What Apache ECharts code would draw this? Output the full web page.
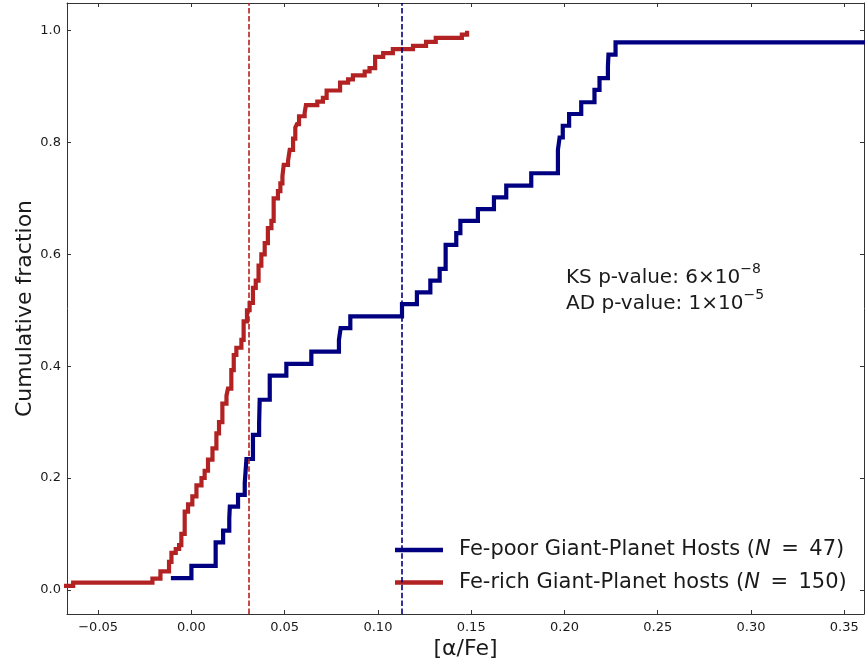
<!DOCTYPE html>
<html>
<head>
<meta charset="utf-8">
<script src="https://cdn.jsdelivr.net/npm/echarts@6/dist/echarts.min.js"></script>
<style>html,body{margin:0;padding:0;background:#fff}#c{width:865px;height:661px}</style>
</head>
<body>
<div id="c"></div>
<script>
// ---- data ----
const xTicks = [-0.05, 0.00, 0.05, 0.10, 0.15, 0.20, 0.25, 0.30, 0.35];
const yTicks = [0.0, 0.2, 0.4, 0.6, 0.8, 1.0];

const poorName = 'Fe-poor Giant-Planet Hosts (N = 47)';
const richName = 'Fe-rich Giant-Planet hosts (N = 150)';

// Fe-poor ECDF: x where each step occurs, level after the step
const poorX = [-0.0110, 0.0000, 0.0130, 0.0170, 0.0203, 0.0206, 0.0250, 0.0286, 0.0295, 0.0330,
  0.0363, 0.0366, 0.0420, 0.0509, 0.0643, 0.0791, 0.0800, 0.0852, 0.1129, 0.1209,
  0.1281, 0.1331, 0.1363, 0.1420, 0.1442, 0.1536, 0.1622, 0.1688, 0.1822, 0.1965,
  0.1974, 0.1991, 0.2025, 0.2090, 0.2161, 0.2188, 0.2233, 0.2236, 0.2274, 0.4000];
const poorY = [0.021, 0.043, 0.085, 0.106, 0.128, 0.149, 0.170, 0.191, 0.234, 0.277,
  0.298, 0.340, 0.383, 0.404, 0.426, 0.447, 0.468, 0.489, 0.511, 0.532,
  0.553, 0.574, 0.617, 0.638, 0.660, 0.681, 0.702, 0.723, 0.745, 0.787,
  0.809, 0.830, 0.851, 0.872, 0.894, 0.915, 0.936, 0.957, 0.979, 1.000];

// Fe-rich ECDF
const richX = [-0.0700, -0.0634, -0.0209, -0.0166, -0.0120, -0.0107, -0.0084, -0.0066, -0.0054, -0.0036,
  -0.0018, 0.0005, 0.0027, 0.0054, 0.0071, 0.0089, 0.0113, 0.0134, 0.0148, 0.0166,
  0.0188, 0.0196, 0.0214, 0.0227, 0.0241, 0.0268, 0.0280, 0.0298, 0.0312, 0.0330,
  0.0345, 0.0360, 0.0375, 0.0393, 0.0410, 0.0429, 0.0441, 0.0464, 0.0477, 0.0488,
  0.0495, 0.0518, 0.0527, 0.0545, 0.0557, 0.0566, 0.0577, 0.0607, 0.0614, 0.0675,
  0.0705, 0.0725, 0.0797, 0.0840, 0.0866, 0.0929, 0.0955, 0.0985, 0.1028, 0.1080,
  0.1188, 0.1258, 0.1310, 0.1450, 0.1478];
const richY = [0.007, 0.013, 0.020, 0.033, 0.050, 0.066, 0.073, 0.080, 0.100, 0.140,
  0.153, 0.167, 0.187, 0.200, 0.213, 0.233, 0.253, 0.280, 0.300, 0.333,
  0.347, 0.360, 0.393, 0.420, 0.433, 0.447, 0.480, 0.500, 0.513, 0.540,
  0.553, 0.580, 0.600, 0.620, 0.647, 0.660, 0.700, 0.713, 0.727, 0.740,
  0.760, 0.767, 0.787, 0.807, 0.827, 0.833, 0.847, 0.853, 0.867, 0.873,
  0.880, 0.893, 0.907, 0.913, 0.920, 0.927, 0.933, 0.953, 0.960, 0.967,
  0.973, 0.980, 0.987, 0.993, 1.000];

// medians (dashed vertical lines)
const medianRich = 0.0305;
const medianPoor = 0.1129;

const ksText = 'KS p-value: 6×10';
const ksExp = '−8';
const adText = 'AD p-value: 1×10';
const adExp = '−5';

// ---- build step vertices from the data ----
function steps(xs, ys) {
  const pts = [[xs[0], ys[0]]];
  for (let i = 1; i < xs.length; i++) {
    pts.push([xs[i], ys[i - 1]]);
    pts.push([xs[i], ys[i]]);
  }
  return pts;
}

const BLUE = '#000080', RED = '#b22222', FRAME = '#333333', TXT = '#1a1a1a';
const FONT = 'DejaVu Sans';
const X_MIN = -0.0667, X_MAX = 0.3606, Y_MIN = -0.0432, Y_MAX = 1.0495;

const fmtX = v => (v < 0 ? '−' : '') + Math.abs(v).toFixed(2);
const fmtY = v => v.toFixed(1);

function legendFmt(name) {
  const m = name.match(/^(.*)\(N = (\d+)\)$/);
  return '{a|' + m[1] + '(}{i|N}{a|\u2002=\u2002' + m[2] + ')}';
}

const chart = echarts.init(document.getElementById('c'), null, {renderer: 'canvas'});
const axisCommon = {
  axisLine: {show: true, onZero: false, lineStyle: {color: FRAME, width: 1}},
  axisTick: {show: true, inside: true, length: 4, lineStyle: {color: FRAME, width: 1}},
  splitLine: {show: false}
};

chart.setOption({
  animation: false,
  backgroundColor: '#fff',
  grid: {left: 67, right: 1, top: 3, bottom: 47, containLabel: false, outerBoundsMode: 'none'},
  xAxis: [
    Object.assign({}, axisCommon, {
      type: 'value', position: 'bottom', min: X_MIN, max: X_MAX,
      axisTick: Object.assign({}, axisCommon.axisTick, {customValues: xTicks}),
      axisLabel: {show: true, customValues: xTicks, formatter: fmtX, fontFamily: FONT, fontSize: 13, color: TXT, margin: 7},
      name: '[α/Fe]', nameLocation: 'middle', nameGap: 24, nameMoveOverlap: false,
      nameTextStyle: {fontFamily: FONT, fontSize: 22, color: TXT}
    }),
    Object.assign({}, axisCommon, {
      type: 'value', position: 'top', min: X_MIN, max: X_MAX,
      axisTick: Object.assign({}, axisCommon.axisTick, {customValues: xTicks}),
      axisLabel: {show: false}
    })
  ],
  yAxis: [
    Object.assign({}, axisCommon, {
      type: 'value', position: 'left', min: Y_MIN, max: Y_MAX,
      axisTick: Object.assign({}, axisCommon.axisTick, {customValues: yTicks}),
      axisLabel: {show: true, customValues: yTicks, formatter: fmtY, fontFamily: FONT, fontSize: 13, color: TXT, margin: 6},
      name: 'Cumulative fraction', nameLocation: 'middle', nameGap: 31, nameRotate: 90, nameMoveOverlap: false,
      nameTextStyle: {fontFamily: FONT, fontSize: 22, color: TXT}
    }),
    Object.assign({}, axisCommon, {
      type: 'value', position: 'right', min: Y_MIN, max: Y_MAX,
      axisTick: Object.assign({}, axisCommon.axisTick, {customValues: yTicks}),
      axisLabel: {show: false}
    })
  ],
  legend: {
    orient: 'vertical', left: 395, top: 539, padding: 0, itemGap: 10.5,
    itemWidth: 48, itemHeight: 4.5, icon: 'rect',
    data: [poorName, richName],
    formatter: legendFmt,
    textStyle: {
      fontFamily: FONT, fontSize: 21, color: TXT, padding: [0, 0, 0, 11], lineHeight: 22,
      rich: {
        a: {fontFamily: FONT, fontSize: 21, color: TXT, lineHeight: 22},
        i: {fontFamily: FONT, fontSize: 21, fontStyle: 'italic', color: TXT, lineHeight: 22}
      }
    }
  },
  graphic: [
    {type: 'text', left: 566, top: 262, silent: true,
      style: {text: '{a|' + ksText + '}{s|' + ksExp + '}',
        rich: {a: {fontFamily: FONT, fontSize: 20, fill: TXT, lineHeight: 26, verticalAlign: 'bottom'},
               s: {fontFamily: FONT, fontSize: 14, fill: TXT, lineHeight: 26, verticalAlign: 'top'}}}},
    {type: 'text', left: 566, top: 288, silent: true,
      style: {text: '{a|' + adText + '}{s|' + adExp + '}',
        rich: {a: {fontFamily: FONT, fontSize: 20, fill: TXT, lineHeight: 26, verticalAlign: 'bottom'},
               s: {fontFamily: FONT, fontSize: 14, fill: TXT, lineHeight: 26, verticalAlign: 'top'}}}}
  ],
  series: [
    {
      name: poorName, type: 'line', data: steps(poorX, poorY), showSymbol: false, symbol: 'none',
      clip: true, color: BLUE, z: 3,
      lineStyle: {color: BLUE, width: 4.2, cap: 'butt', join: 'miter'},
      markLine: {silent: true, symbol: 'none', precision: 5, label: {show: false},
        lineStyle: {color: BLUE, width: 1.6, type: [5.5, 2.4]},
        data: [{xAxis: medianPoor}]}
    },
    {
      name: richName, type: 'line', data: steps(richX, richY), showSymbol: false, symbol: 'none',
      clip: true, color: RED, z: 2,
      lineStyle: {color: RED, width: 4.2, cap: 'butt', join: 'miter'},
      markLine: {silent: true, symbol: 'none', precision: 5, label: {show: false},
        lineStyle: {color: RED, width: 1.6, type: [5.5, 2.4]},
        data: [{xAxis: medianRich}]}
    }
  ]
});
</script>
</body>
</html>
